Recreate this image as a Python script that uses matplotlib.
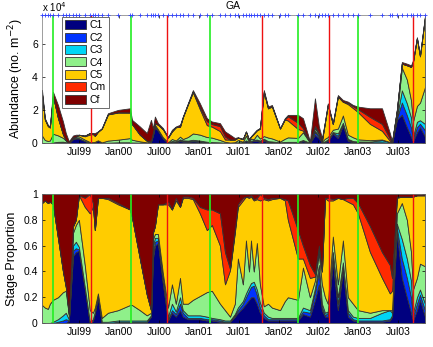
import numpy as np
import matplotlib
matplotlib.use('Agg')
import matplotlib.pyplot as plt
from datetime import datetime

# sample dates (GA station)
sample_dates = ['1999-01-13', '1999-01-26', '1999-02-09', '1999-02-18', '1999-03-04', '1999-03-27',
                '1999-04-19', '1999-05-02', '1999-05-16', '1999-06-04', '1999-06-17', '1999-07-01',
                '1999-07-28', '1999-08-20', '1999-09-03', '1999-09-12', '1999-09-26', '1999-10-14',
                '1999-11-11', '1999-12-27', '2000-02-20', '2000-02-29', '2000-04-05', '2000-05-07',
                '2000-05-26', '2000-06-04', '2000-06-13', '2000-06-27', '2000-07-20', '2000-08-12',
                '2000-08-30', '2000-09-17', '2000-10-06', '2000-10-19', '2000-11-11', '2000-12-04',
                '2001-01-05', '2001-02-06', '2001-03-01', '2001-04-07', '2001-04-30', '2001-05-23',
                '2001-06-14', '2001-06-28', '2001-07-21', '2001-08-04', '2001-08-18', '2001-08-27',
                '2001-09-09', '2001-09-23', '2001-10-07', '2001-10-25', '2001-11-13', '2001-12-01',
                '2002-01-07', '2002-01-29', '2002-02-12', '2002-03-30', '2002-04-22', '2002-05-24',
                '2002-06-16', '2002-07-04', '2002-07-18', '2002-08-01', '2002-08-14', '2002-09-06',
                '2002-09-29', '2002-10-22', '2002-11-14', '2002-12-07', '2002-12-30', '2003-02-23',
                '2003-04-19', '2003-05-25', '2003-06-04', '2003-06-26', '2003-07-19', '2003-08-11',
                '2003-08-30', '2003-09-08', '2003-09-26', '2003-10-10', '2003-11-02']

# total abundance, x 10^4 no. m-2
total_abund = [3.2, 1.5, 1.1, 1.0, 3.1, 2.3, 1.3, 0.6, 0.1, 0.45, 0.5, 0.5,
               0.45, 0.6, 0.6, 0.6, 0.7, 0.9, 1.8, 2.0, 2.1, 1.4, 1.0, 0.6,
               1.4, 0.9, 1.6, 1.2, 0.9, 0.35, 0.8, 1.0, 1.1, 1.6, 2.4, 3.2,
               2.4, 1.5, 1.3, 1.2, 0.7, 0.5, 0.3, 0.35, 0.25, 0.7, 0.2, 0.4,
               0.6, 0.8, 0.9, 3.2, 2.2, 2.3, 0.9, 1.5, 1.7, 1.7, 1.5, 0.1,
               2.7, 1.0, 0.3, 1.3, 2.4, 1.2, 2.9, 2.6, 2.5, 2.3, 2.2, 2.1,
               2.1, 0.6, 0.1, 2.0, 4.9, 4.8, 4.7, 5.0, 6.4, 5.3, 7.7]

# stage proportions (Cf is the remainder)
c1 = [0, 0, 0, 0, 0, 0, 0, 0, .02, .52, .55, .56,
      .27, 0, .02, .08, .20, 0, 0, .01, .01, .01, .01, .01,
      .05, .50, .60, .62, .30, .02, .08, .05, .10, .05, .03, .03,
      .03, .02, .02, .01, .01, .01, .05, .08, .12, .15, .18, .20,
      .20, .15, .08, .04, .02, .02, .02, .02, .02, .02, .07, .05,
      .18, .30, .10, .05, .05, .48, .10, .41, .05, .02, .01, .01,
      .01, .02, .05, .70, .35, .20, .08, .02, .10, .18, .05]
c2 = [0, 0, 0, 0, 0, .01, .02, .03, 0, .04, .03, .01,
      0, 0, 0, 0, .01, 0, 0, 0, 0, 0, 0, 0,
      0, .05, .03, .02, .02, .01, .02, .02, .05, .03, .01, .01,
      .01, .01, .01, .01, 0, 0, .01, .02, .03, .05, .07, .08,
      .09, .07, .04, .02, .01, .01, .01, .01, .01, .01, .02, .03,
      .06, .10, .02, .01, .03, .04, .05, .03, .03, .01, .01, .01,
      .01, .01, .01, .04, .15, .15, .12, .03, .05, .04, .05]
c3 = [0, 0, 0, 0, .01, .02, .04, .05, .01, .04, .05, .02,
      .01, .01, .01, .01, .01, .01, .01, .01, .01, .01, .01, .01,
      .01, .05, .03, .02, .02, .02, .05, .02, .05, .02, .02, .02,
      .02, .02, .01, .01, .01, .01, .01, .02, .02, .03, .03, .03,
      .03, .04, .04, .02, .02, .01, .01, .01, .01, .01, .03, .02,
      .03, .05, .03, .02, .01, .03, .05, .03, .02, .02, .02, .02,
      .06, .07, .02, .03, .15, .15, .13, .03, .05, .04, .05]
c4 = [.14, .12, .11, .15, .17, .17, .18, .17, .03, .10, .13, .21,
      .17, .09, .05, .03, .01, .03, .07, .08, .12, .12, .08, .04,
      .02, .05, .03, .03, .04, .07, .15, .06, .15, .05, .09, .12,
      .15, .19, .21, .12, .08, .03, .08, .38, .13, .41, .12, .33,
      .08, .36, .14, .05, .10, .08, .06, .13, .16, .14, .31, .10,
      .06, .09, .15, .12, .06, .12, .10, .17, .10, .10, .06, .04,
      .02, 0, .02, .08, .28, .30, .22, .18, .15, .20, .29]
c5 = [.79, .83, .82, .79, .74, .46, .16, .03, .01, .05, .04, .19,
      .45, .75, .82, .60, .74, .93, .88, .82, .74, .68, .40, .16,
      .02, .05, .06, .23, .54, .80, .58, .80, .55, .82, .82, .78,
      .64, .48, .51, .45, .20, .36, .55, .40, .65, .34, .57, .34,
      .55, .34, .65, .83, .80, .84, .87, .78, .60, .32, .07, .15,
      .03, .04, .10, .77, .80, .28, .67, .32, .74, .77, .75, .47,
      .25, .13, .15, .12, .05, .18, .43, .72, .64, .53, .55]
cm = [0, 0, 0, 0, 0, 0, 0, 0, 0, 0, 0, 0,
      .07, .15, .03, 0, 0, 0, .01, .01, 0, 0, 0, 0,
      0, 0, 0, 0, 0, .02, 0, .02, 0, .01, .01, .01,
      .05, .16, .12, .25, .25, .01, .02, .02, .02, 0, .01, .01,
      .01, .01, .05, .01, .01, .01, 0, .01, .15, .22, .10, .10,
      .02, .02, 0, 0, .02, .01, 0, 0, .03, .05, .08, .20,
      .20, .22, .10, .01, 0, 0, 0, 0, 0, 0, 0]

stages = ['C1', 'C2', 'C3', 'C4', 'C5', 'Cm', 'Cf']
stage_colors = ['#00007f', '#0033ff', '#00d5f5', '#8ff08a', '#ffcc00', '#ff2a00', '#7f0000']

# cruise / season markers
green_lines = ['1999-03-04', '2000-02-24', '2001-02-20', '2002-03-30', '2002-12-30']
red_lines = ['1999-08-25', '2000-08-07', '2001-10-16', '2002-08-19', '2003-09-08']

tick_dates = ['1999-07-01', '2000-01-01', '2000-07-01', '2001-01-01', '2001-07-01',
              '2002-01-01', '2002-07-01', '2003-01-01', '2003-07-01']
tick_labels = ['Jul99', 'Jan00', 'Jul00', 'Jan01', 'Jul01', 'Jan02', 'Jul02', 'Jan03', 'Jul03']

plt.rcParams['font.family'] = ['Liberation Sans', 'DejaVu Sans']

def todate(s):
    return datetime.strptime(s, '%Y-%m-%d')

x = [todate(d) for d in sample_dates]
props = np.array([c1, c2, c3, c4, c5, cm], dtype=float)
cf = np.clip(1 - props.sum(axis=0), 0, None)
props = np.vstack([props, cf])
props = props / props.sum(axis=0)
abund = props * np.array(total_abund) * 1e4

fig = plt.figure(figsize=(4.33, 3.47), dpi=100)
ax1 = fig.add_axes([0.097, 0.588, 0.8845, 0.369])
ax2 = fig.add_axes([0.097, 0.069, 0.8845, 0.372])

for ax, data in [(ax1, abund), (ax2, props)]:
    ax.stackplot(x, *data, colors=stage_colors, labels=stages,
                 edgecolor='#333333', linewidth=0.6)
    for d in green_lines:
        ax.axvline(todate(d), color='#22ee22', lw=1.2)
    for d in red_lines:
        ax.axvline(todate(d), color='#ee1111', lw=1.0)
    ax.set_xlim(x[0], x[-1])
    ax.set_xticks([todate(d) for d in tick_dates])
    ax.set_xticklabels(tick_labels)
    ax.tick_params(direction='in', top=True, right=True, labelsize=7.5, length=2.5, width=0.5, pad=3)
    for s in ax.spines.values():
        s.set_linewidth(0.5)
        s.set_color('#777777')

ax1.set_ylim(0, 7.75e4)
ax1.set_yticks([0, 2e4, 4e4, 6e4])
ax1.set_yticklabels(['0', '2', '4', '6'])
ax1.set_ylabel('Abundance (no. m$^{-2}$)', fontsize=9, labelpad=4)
ax1.text(0.0, 1.01, 'x 10$^4$', transform=ax1.transAxes, fontsize=7, ha='left', va='bottom')
ax1.set_title('GA', fontsize=7.5, pad=4)
ax1.plot(x, [7.75e4] * len(x), '+', color='#3344ff', ms=3, mew=0.6, clip_on=False, zorder=5)
leg = ax1.legend(loc='upper left', bbox_to_anchor=(0.05, 0.99), fontsize=7.5, frameon=True,
                 fancybox=False, edgecolor='#555555', framealpha=1, labelspacing=0.22,
                 handlelength=2.0, handleheight=0.95, handletextpad=0.3, borderpad=0.3,
                 borderaxespad=0.1)
leg.get_frame().set_linewidth(0.6)

ax2.set_ylim(0, 1)
ax2.set_yticks([0, 0.2, 0.4, 0.6, 0.8, 1.0])
ax2.set_yticklabels(['0', '0.2', '0.4', '0.6', '0.8', '1'])
ax2.set_ylabel('Stage Proportion', fontsize=9, labelpad=4)

fig.savefig('out.png', dpi=100)
